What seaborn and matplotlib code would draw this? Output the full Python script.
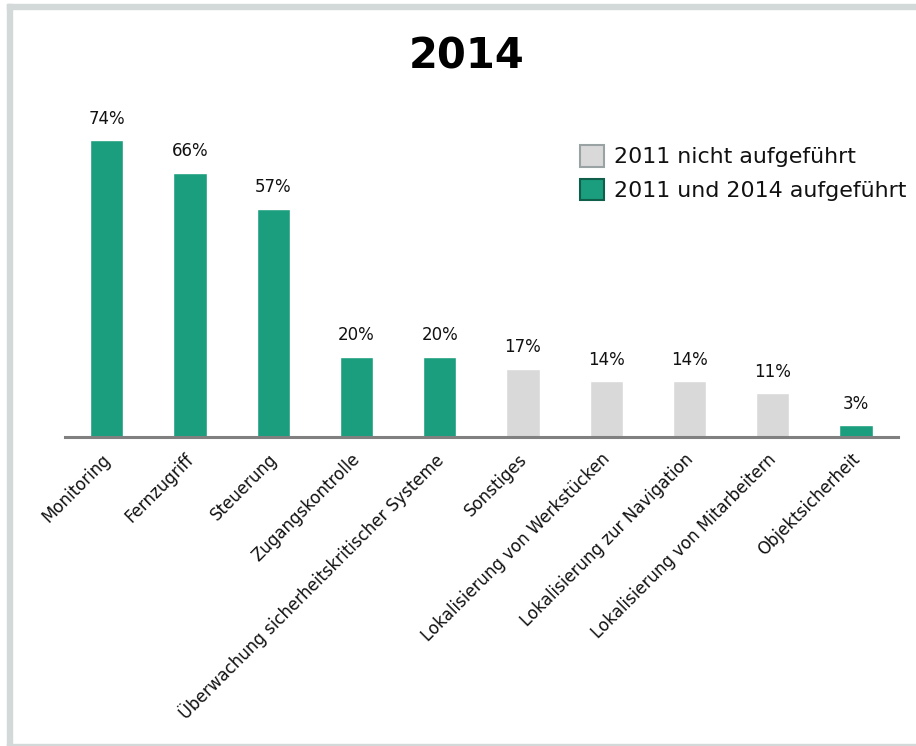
import matplotlib
matplotlib.use("Agg")
import matplotlib.pyplot as plt
import matplotlib.patches as mpatches
import matplotlib.transforms as mtransforms
import seaborn as sns
import pandas as pd

sns.set_theme(style="white")
plt.rcParams["font.family"] = ["DejaVu Sans"]

categories = [
    "Monitoring",
    "Fernzugriff",
    "Steuerung",
    "Zugangskontrolle",
    "Überwachung sicherheitskritischer Systeme",
    "Sonstiges",
    "Lokalisierung von Werkstücken",
    "Lokalisierung zur Navigation",
    "Lokalisierung von Mitarbeitern",
    "Objektsicherheit",
]
values = [74, 66, 57, 20, 20, 17, 14, 14, 11, 3]
groups = [
    "2011 und 2014 aufgeführt",
    "2011 und 2014 aufgeführt",
    "2011 und 2014 aufgeführt",
    "2011 und 2014 aufgeführt",
    "2011 und 2014 aufgeführt",
    "2011 nicht aufgeführt",
    "2011 nicht aufgeführt",
    "2011 nicht aufgeführt",
    "2011 nicht aufgeführt",
    "2011 und 2014 aufgeführt",
]
legend_order = ["2011 nicht aufgeführt", "2011 und 2014 aufgeführt"]

GREEN = "#1a9e7e"
GREY = "#d9d9d9"
palette = {"2011 nicht aufgeführt": GREY, "2011 und 2014 aufgeführt": GREEN}

df = pd.DataFrame({"Kategorie": categories, "Anteil": values, "Gruppe": groups})

fig = plt.figure(figsize=(9.16, 7.46), dpi=100)
ax = fig.add_axes([0.071, 0.414, 0.909, 0.430])

sns.barplot(
    data=df, x="Kategorie", y="Anteil", hue="Gruppe", palette=palette,
    dodge=False, width=0.4, ax=ax, legend=False, saturation=1,
)

ax.set_xlim(-0.5, 9.5)
ax.set_ylim(0, 80)
ax.set_xlabel("")
ax.set_ylabel("")
ax.set_yticks([])
for side in ["left", "right", "top"]:
    ax.spines[side].set_visible(False)
ax.spines["bottom"].set_color("#808080")
ax.spines["bottom"].set_linewidth(2.2)
ax.tick_params(axis="x", length=0, pad=14)

ax.set_xticks(range(len(categories)))
ax.set_xticklabels(categories, rotation=45, ha="right", va="center",
                   rotation_mode="anchor", fontsize=12, color="#111111")
shift = mtransforms.ScaledTranslation(1 / 100, 0, fig.dpi_scale_trans)
for lbl in ax.get_xticklabels():
    lbl.set_transform(lbl.get_transform() + shift)

for i, v in enumerate(values):
    ax.annotate(f"{v}%", (i, v), xytext=(0, 9), textcoords="offset points",
                ha="center", va="bottom", fontsize=12, color="#111111")

fig.text(0.509, 0.924, "2014", ha="center", va="center", fontsize=30,
         fontweight="bold", color="black")

handles = [
    mpatches.Patch(facecolor=GREY, edgecolor="#9aa3a3", linewidth=1.5, label=legend_order[0]),
    mpatches.Patch(facecolor=GREEN, edgecolor="#0f5f4b", linewidth=1.5, label=legend_order[1]),
]
leg = fig.legend(handles=handles, loc="upper left", bbox_to_anchor=(0.623, 0.817),
                 frameon=False, fontsize=15.9, handlelength=1.1, handleheight=1.1,
                 handletextpad=0.45, labelspacing=0.5, borderaxespad=0)
for t in leg.get_texts():
    t.set_color("#111111")

# light frame around the panel
frame_col = "#d3d8d8"
fig.patches.append(mpatches.Rectangle((7 / 916, 1 - 9 / 746), 1 - 7 / 916, 5 / 746,
                                      transform=fig.transFigure, color=frame_col, zorder=0))
fig.patches.append(mpatches.Rectangle((7 / 916, 0), 5 / 916, 1 - 4 / 746,
                                      transform=fig.transFigure, color=frame_col, zorder=0))
fig.patches.append(mpatches.Rectangle((7 / 916, 0), 1 - 7 / 916, 2 / 746,
                                      transform=fig.transFigure, color=frame_col, zorder=0))

fig.savefig("out.png", dpi=100)
